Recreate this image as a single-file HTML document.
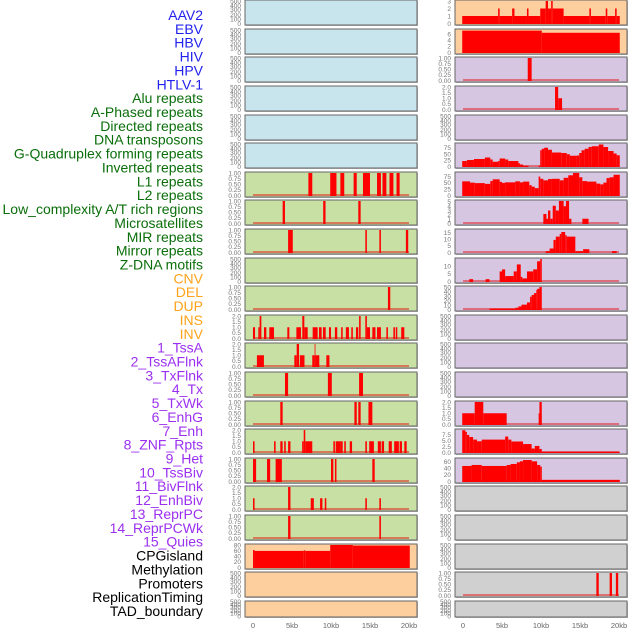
<!DOCTYPE html>
<html><head><meta charset="utf-8"><style>
html,body{margin:0;padding:0;background:#fff;width:630px;height:630px;overflow:hidden}
svg{display:block}
text{font-family:"Liberation Sans",sans-serif}
</style></head><body>
<svg id="chart" width="630" height="630" viewBox="0 0 630 630" xmlns="http://www.w3.org/2000/svg"></svg>
<script>
// ---- labels ----
const labelNames=["AAV2","EBV","HBV","HIV","HPV","HTLV-1","Alu repeats","A-Phased repeats","Directed repeats","DNA transposons","G-Quadruplex forming repeats","Inverted repeats","L1 repeats","L2 repeats","Low_complexity A/T rich regions","Microsatellites","MIR repeats","Mirror repeats","Z-DNA motifs","CNV","DEL","DUP","INS","INV","1_TssA","2_TssAFlnk","3_TxFlnk","4_Tx","5_TxWk","6_EnhG","7_Enh","8_ZNF_Rpts","9_Het","10_TssBiv","11_BivFlnk","12_EnhBiv","13_ReprPC","14_ReprPCWk","15_Quies","CPGisland","Methylation","Promoters","ReplicationTiming","TAD_boundary"];
const labelGroups=[6,13,5,15,5];
const groupColors=["#2222ee","#0a6e0a","#ffa31a","#9b30f0","#000000"];
const xTickLabels=["0","5kb","10kb","15kb","20kb"];
const xTickValues=[0,5,10,15,20];

// ---- left column data: [startKb,endKb,value] ----
const leftL1=[[7.1,7.6,1],[9.9,10.7,1],[11.2,11.7,1],[12.9,13.3,1],[14.1,15.0,1],[15.9,16.4,1],[16.6,17.1,1],[17.5,18.0,1],[18.4,18.8,1]];
const leftL2=[[3.8,4.1,1],[9.0,9.3,1],[13.5,13.8,1]];
const leftLow=[[4.5,5.1,1],[14.4,14.6,1],[16.2,16.4,1],[19.6,19.9,1]];
const leftMIR=[[17.3,17.6,1]];
const leftMirror=[[0,0.26,1],[0.68,0.85,1],[0.85,1.07,2],[1.41,1.71,1],[2.09,2.69,1],[4.40,4.66,1],[5.56,6.15,1],[6.32,6.58,2],[6.58,7.01,1],[7.65,8.29,1],[8.46,8.8,1],[8.97,9.32,1],[9.74,10.0,1],[10.5,10.8,1],[11.3,11.5,1],[11.9,12.3,1],[12.6,12.8,1],[13.2,13.5,1],[13.6,13.8,2],[14.4,14.6,2],[14.6,15.0,1],[15.3,15.7,1],[15.9,16.4,1],[17.1,17.3,1],[18.0,18.2,1],[18.3,18.5,1],[19.0,19.4,1]];
const leftZ=[[0.5,1.4,1],[5.3,5.6,1],[5.6,5.9,2],[6.0,6.6,1],[7.6,7.9,1],[7.9,8.0,2],[8.0,8.5,1],[9.4,9.8,1]];
const leftR14=[[4.1,4.5,1],[9.6,10.1,1],[13.6,14.1,1]];
const leftR15=[[3.5,3.8,1],[13.0,13.3,1],[13.5,13.8,1],[14.8,15.3,1]];
const leftR16=[[0,0.2,1],[2.7,2.9,1],[3.5,3.8,1],[4.0,4.2,1],[4.5,4.8,1],[6.3,6.5,1],[6.5,6.7,2],[6.7,7.6,1],[10.3,10.5,1],[10.6,11.2,1],[11.2,11.5,1],[11.7,11.9,1],[12.4,12.7,1],[14.4,14.6,1],[14.9,15.5,1],[16.0,16.4,1],[16.5,16.8,1],[17.4,17.8,1],[18.1,18.7,1],[18.8,19.1,1],[19.4,19.7,1]];
const leftR17=[[0,0.4,1],[1.8,2.2,1],[2.9,3.7,1],[10.0,10.3,1],[10.5,10.7,1],[15.3,15.6,1]];
const leftR18=[[0,0.2,1],[4.5,4.8,2],[7.4,7.8,1],[8.6,8.9,1],[9.2,9.4,1],[14.4,14.6,1],[16.2,16.4,1]];
const leftR19=[[4.5,4.8,1],[16.2,16.4,1]];
const leftCPG=[[0,0.2,62],[0.2,6.5,59],[6.5,6.7,61],[6.7,9.9,59],[9.9,12.8,80],[12.8,20.1,78]];

// ---- right column data ----
const rightINS=[[-0.1,4.5,1],[4.5,4.7,2],[4.7,6.3,1],[6.3,6.6,2],[6.6,8.2,1],[8.2,8.4,2],[8.4,9.9,1],[9.9,10.6,2],[10.6,10.9,3],[10.9,11.3,2],[11.3,11.5,3],[11.5,12.9,2],[12.9,16.2,1],[16.2,16.4,2],[16.4,18.3,1],[18.3,18.5,2],[18.5,19.5,1],[19.5,19.7,2],[19.7,20.1,1]];
const rightINV=[[-0.1,10.1,7.1],[10.1,20.1,6.4]];
const rightR3=[[8.3,8.8,1]];
const rightR4=[[11.8,12.2,2],[12.2,12.7,1]];
const rightGQ=[[-0.1,0.5,22],[0.5,1.4,26],[1.4,2.8,30],[2.8,3.5,36],[3.5,3.8,28],[3.8,4.5,19],[4.5,4.7,22],[4.7,5.4,32],[5.4,5.8,28],[5.8,7.1,22],[7.1,7.3,13],[7.3,7.7,8],[7.7,8.4,3],[9.7,9.9,3],[9.9,10.1,65],[10.1,10.4,71],[10.4,10.9,75],[10.9,11.4,67],[11.4,12.6,56],[12.6,13.3,54],[13.3,13.7,49],[13.7,14.6,43],[14.6,14.9,44],[14.9,15.2,54],[15.2,15.6,65],[15.6,16.1,71],[16.1,16.5,78],[16.5,17.4,81],[17.4,18.0,88],[18.0,18.6,78],[18.6,19.3,62],[19.3,19.7,52],[19.7,20.1,45]];
const rightInv=[[-0.1,0.9,56],[0.9,1.5,51],[1.5,2.8,49],[2.8,3.5,46],[3.5,3.8,57],[3.8,4.7,64],[4.7,5.0,54],[5.0,5.4,50],[5.4,6.7,52],[6.7,7.3,56],[7.3,7.7,52],[7.7,8.5,55],[8.5,8.8,41],[8.8,9.2,35],[9.2,9.7,29],[9.7,9.9,75],[9.9,10.3,66],[10.3,10.9,60],[10.9,11.4,65],[11.4,12.4,66],[12.4,12.9,60],[12.9,13.5,70],[13.5,14.1,80],[14.1,14.9,89],[14.9,15.3,72],[15.3,15.9,57],[15.9,17.1,55],[17.1,17.6,47],[17.6,18.0,44],[18.0,18.4,51],[18.4,18.8,69],[18.8,19.3,72],[19.3,20.1,82]];
const rightR8=[[10.3,10.7,2.2],[10.7,10.9,1.1],[10.9,11.2,3],[11.2,11.5,1.1],[11.5,11.9,4.1],[11.9,12.3,3],[12.3,12.9,5.2],[12.9,13.2,4],[13.2,13.6,5.2],[13.6,13.9,1.1],[15.3,16.1,1.1]];
const rightR9=[[10.6,11.1,1],[11.1,11.6,3],[11.6,11.9,9.5],[11.9,12.4,12],[12.4,12.6,14],[12.6,13.1,15.5],[13.1,13.3,13],[13.3,14.4,12],[14.4,15.4,1],[15.4,16.2,2.5],[19.1,19.7,1]];
const rightR10=[[0.8,1.3,1.5],[2.9,3.4,1.5],[4.7,5.0,6.5],[5.0,5.4,7.8],[5.4,6.5,3.5],[6.5,6.9,6.5],[6.9,7.4,11],[7.4,7.6,3],[7.6,8.2,2],[8.2,9.0,6.5],[9.0,9.5,7.8],[9.5,9.9,13],[9.9,10.1,14.5]];
const rightR11=[[3.4,6.7,2],[6.7,7.1,4],[7.1,7.5,7],[7.5,8.2,11],[8.2,8.6,16],[8.6,8.8,29],[8.8,9.1,33],[9.1,9.4,37],[9.4,9.5,44],[9.5,9.8,47],[9.8,10.1,51]];
const rightR15=[[-0.1,1.5,1],[1.5,2.6,2],[2.6,5.6,1],[9.7,9.8,1],[9.8,10.1,2]];
const rightR16=[[-0.1,0.3,9.5],[0.3,0.5,8.8],[0.5,0.8,7.5],[0.8,1.3,6.6],[1.3,1.8,5.5],[1.8,2.4,4.8],[2.4,5.4,5.5],[5.4,5.8,6.8],[5.8,6.2,5.5],[6.2,7.7,4.7],[7.7,8.8,3.6],[8.8,9.2,1.7],[9.2,9.8,2.8],[9.8,10.1,1.5],[10.1,20.1,0.3]];
const rightR17=[[-0.1,1.1,47],[1.1,2.4,50],[2.4,5.6,47],[5.6,6.1,50],[6.1,6.9,53],[6.9,7.3,58],[7.3,7.7,61],[7.7,8.8,65],[8.8,9.5,61],[9.5,9.9,50],[9.9,10.1,45],[10.1,20.1,5]];
const rightR21=[[17.1,17.4,1],[18.8,19.1,1],[19.6,19.9,1]];

// ---- tick label sets ----
const tUnit=["0.00","0.25","0.50","0.75","1.00"];
const tTwo=["0.0","0.5","1.0","1.5","2.0"];

const BG={blue:"#c8e4ec",green:"#c8e0a4",orange:"#fecf9e",purple:"#d6c6e2",gray:"#d0d0d0"};
const rowTops=[0,29,57,86,115,143,172,200,229,258,286,315,343,372,401,429,458,486,515,544,572,601];
function P(bg,data,max,ticks,tickVals){return {bg,data,max,ticks,tickVals};}
const U=[0,0.25,0.5,0.75,1], T2=[0,0.5,1,1.5,2];
const leftPanels=[
P("blue"),P("blue"),P("blue"),P("blue"),P("blue"),P("blue"),
P("green",leftL1,1,tUnit,U),P("green",leftL2,1,tUnit,U),P("green",leftLow,1,tUnit,U),P("green"),
P("green",leftMIR,1,tUnit,U),P("green",leftMirror,2,tTwo,T2),P("green",leftZ,2,tTwo,T2),
P("green",leftR14,1,tUnit,U),P("green",leftR15,1,tUnit,U),P("green",leftR16,2,tTwo,T2),
P("green",leftR17,1,tUnit,U),P("green",leftR18,2,tTwo,T2),P("green",leftR19,1,tUnit,U),
P("orange",leftCPG,80,["0","20","40","60","80"],[0,20,40,60,80]),P("orange"),P("orange")];
const rightPanels=[
P("orange",rightINS,3,["0","1","2","3"],[0,1,2,3]),P("orange",rightINV,7.3,["0","2","4","6"],[0,2,4,6]),
P("purple",rightR3,1,tUnit,U),P("purple",rightR4,2,tTwo,T2),P("purple"),
P("purple",rightGQ,90,["0","25","50","75"],[0,25,50,75]),P("purple",rightInv,89,["0","25","50","75"],[0,25,50,75]),
P("purple",rightR8,5.2,["0","1","2","3","4","5"],[0,1,2,3,4,5]),P("purple",rightR9,17,["0","5","10","15"],[0,5,10,15]),
P("purple",rightR10,14.5,["0","5","10"],[0,5,10]),P("purple",rightR11,51,["0","10","20","30","40","50"],[0,10,20,30,40,50]),
P("purple"),P("purple"),P("purple"),P("purple",rightR15,2,tTwo,T2),
P("purple",rightR16,9.6,["0.0","2.5","5.0","7.5"],[0,2.5,5,7.5]),P("purple",rightR17,68,["0","20","40","60"],[0,20,40,60]),
P("gray"),P("gray"),P("gray"),P("gray",rightR21,1,tUnit,U),P("gray")];

const NS="http://www.w3.org/2000/svg";
const svg=document.getElementById("chart");
function mk(tag,attrs,parent){const e=document.createElementNS(NS,tag);for(const k in attrs)e.setAttribute(k,attrs[k]);(parent||svg).appendChild(e);return e;}

// labels
let li=0;
labelGroups.forEach((n,g)=>{for(let j=0;j<n;j++){const t=mk("text",{x:203,y:20+li*13.86,"text-anchor":"end","font-size":"14",fill:groupColors[g]});


t.textContent=labelNames[li];li++;}});

const cols=[{x0:245,x1:417,zero:253,panels:leftPanels,name:"left"},{x0:455,x1:627,zero:463,panels:rightPanels,name:"right"}];
const KB=7.8;
cols.forEach(col=>{
 const xs=kb=>col.zero+kb*KB;
 col.panels.forEach((p,i)=>{
  const top=rowTops[i], h=(i===21?16:25), bot=top+h;
  const g=mk("g",{});
  
  
  mk("rect",{x:col.x0+1,y:top+1,width:col.x1-col.x0,height:h,fill:"#bbb"},g);
  mk("rect",{x:col.x0,y:top,width:col.x1-col.x0,height:h,fill:BG[p.bg],stroke:"#666","stroke-width":1},g);
  const yB=bot-1.5, yT=top+1;
  if(!p.data){
   const fr=[0.95,0.77,0.6,0.4,0.23,0.05], lab=["0","100","200","300","400","500"];
   fr.forEach((f,k)=>{const t=mk("text",{x:col.x0-4,y:top+h*f+2.2,"text-anchor":"end","font-size":"6.5",fill:"#777"},g);t.textContent=lab[k];});
   return;
  }
  const ys=v=>yB-(v/p.max)*(yB-yT);
  p.tickVals.forEach((v,k)=>{const t=mk("text",{x:col.x0-4,y:ys(v)+2.3,"text-anchor":"end","font-size":"6.5",fill:"#777"},g);t.textContent=p.ticks[k];});
  const base=mk("rect",{x:xs(0),y:yB-1.5,width:xs(20)-xs(0),height:2,fill:"rgba(230,0,0,0.45)"},g);
  
  
  p.data.forEach(d=>{
   const r=mk("rect",{x:xs(d[0]),y:ys(d[2]),width:Math.max(0.8,xs(d[1])-xs(d[0])),height:yB-ys(d[2])+0.5,fill:"#ff0000"},g);
   
   
  });
 });
 xTickValues.forEach((v,k)=>{const t=mk("text",{x:xs(v),y:628,"text-anchor":"middle","font-size":"7.5",fill:"#666"});
  
  
  t.textContent=xTickLabels[k];});
});
</script>
</body></html>
